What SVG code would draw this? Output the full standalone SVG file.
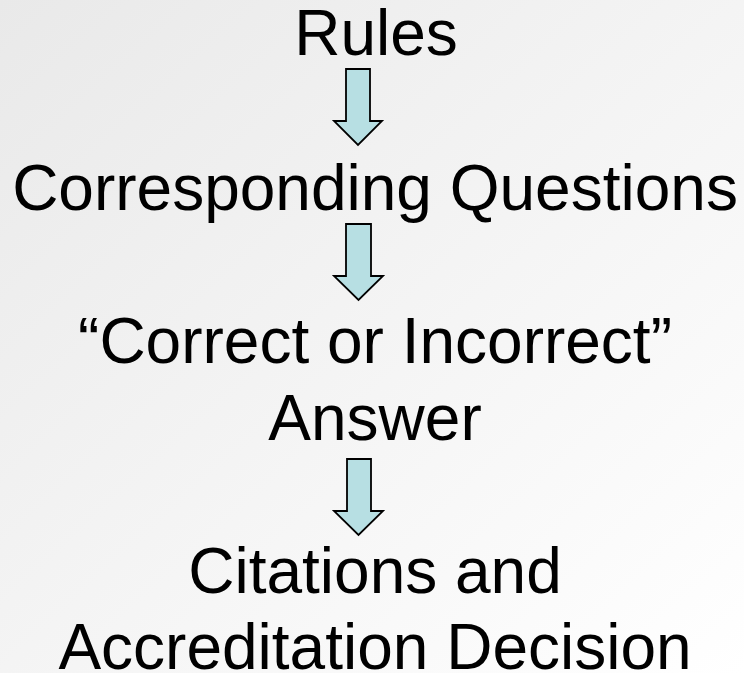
<svg xmlns="http://www.w3.org/2000/svg" width="744" height="673" viewBox="0 0 744 673">
<style>
.t{font-family:"Liberation Sans",Arial,sans-serif;font-size:64px;fill:#000;text-anchor:middle}
.a{fill:#b7dfe3;stroke:#000;stroke-width:1.8;stroke-linejoin:miter}
</style>
<defs>
<linearGradient id="bg" x1="0" y1="0" x2="1" y2="1">
<stop offset="0" stop-color="#e9e9e9"/>
<stop offset="1" stop-color="#ffffff"/>
</linearGradient>
</defs>
<rect width="744" height="673" fill="url(#bg)"/>
<g id="n1"><text class="t" x="376" y="55">Rules</text></g>
<g id="n2"><text class="t" x="375" y="210">Corresponding Questions</text></g>
<g id="n3"><text class="t" x="375" y="363">“Correct or Incorrect”</text><text class="t" x="375" y="440">Answer</text></g>
<g id="n4"><text class="t" x="375" y="593">Citations and</text><text class="t" x="375" y="669">Accreditation Decision</text></g>
<g id="connectors">
<path class="a" d="M346,69 H370 V121 H382 L358,145 L334,121 H346 Z"/>
<path class="a" d="M346,224 H371 V276 H383 L358.5,300 L334,276 H346 Z"/>
<path class="a" d="M347,459 H371 V511 H383 L358.5,535 L334,511 H347 Z"/>
</g>
</svg>
